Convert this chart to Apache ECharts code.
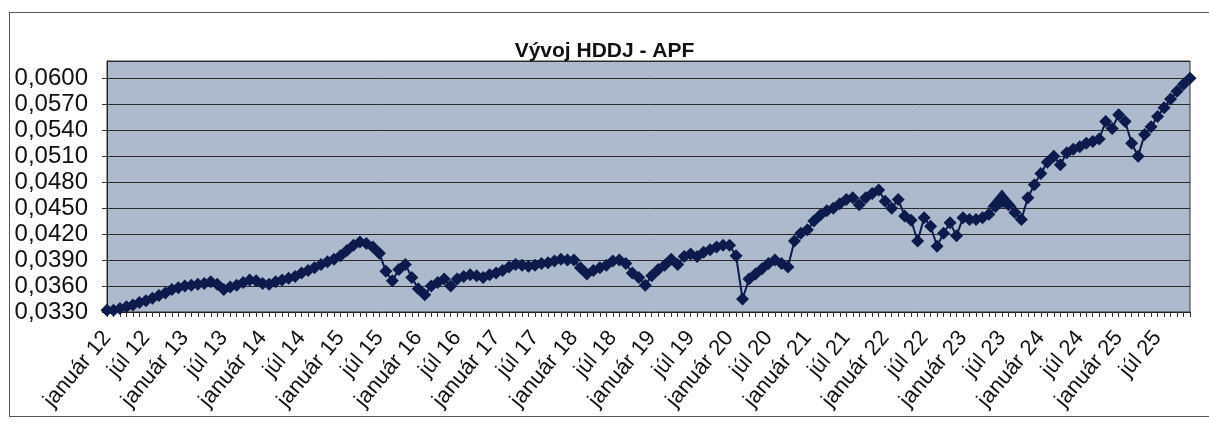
<!DOCTYPE html>
<html>
<head>
<meta charset="utf-8">
<script src="https://cdn.jsdelivr.net/npm/echarts@6/dist/echarts.min.js"></script>
<style>
html,body{margin:0;padding:0;background:#fff;}
#frame{position:absolute;left:9px;top:12px;width:1300px;height:405px;border:1.5px solid #555;box-sizing:border-box;}
#chart{position:absolute;left:0;top:0;width:1209px;height:428px;}
</style>
</head>
<body>
<div id="frame"></div>
<div id="chart"></div>
<script>
// Slovak month names; categories run monthly from január 2012 to december 2025
const monthNames = ['január','február','marec','apríl','máj','jún','júl','august','september','október','november','december'];
const years = ['12','13','14','15','16','17','18','19','20','21','22','23','24','25'];

const v2012 = [0.0332,0.0332,0.0334,0.0336,0.0338,0.0341,0.0343,0.0346,0.0349,0.0352,0.0356,0.0358];
const v2013 = [0.0360,0.0361,0.0362,0.0363,0.0365,0.0362,0.0356,0.0359,0.0361,0.0364,0.0367,0.0366];
const v2014 = [0.0363,0.0362,0.0365,0.0367,0.0369,0.0371,0.0375,0.0378,0.0381,0.0385,0.0388,0.0391];
const v2015 = [0.0395,0.0401,0.0407,0.0411,0.0409,0.0405,0.0398,0.0377,0.0366,0.0379,0.0385,0.0370];
const v2016 = [0.0357,0.0350,0.0360,0.0364,0.0368,0.0360,0.0368,0.0371,0.0373,0.0372,0.0370,0.0373];
const v2017 = [0.0375,0.0378,0.0382,0.0385,0.0384,0.0383,0.0384,0.0386,0.0387,0.0389,0.0391,0.0390];
const v2018 = [0.0390,0.0381,0.0374,0.0378,0.0381,0.0384,0.0389,0.0390,0.0386,0.0375,0.0370,0.0361];
const v2019 = [0.0372,0.0379,0.0384,0.0391,0.0385,0.0394,0.0397,0.0394,0.0399,0.0402,0.0405,0.0407];
const v2020 = [0.0407,0.0395,0.0345,0.0368,0.0374,0.0380,0.0386,0.0390,0.0386,0.0382,0.0412,0.0421];
const v2021 = [0.0425,0.0435,0.0442,0.0447,0.0450,0.0455,0.0460,0.0462,0.0454,0.0462,0.0467,0.0471];
const v2022 = [0.0458,0.0450,0.0460,0.0441,0.0436,0.0412,0.0439,0.0429,0.0406,0.0421,0.0433,0.0418];
const v2023 = [0.0439,0.0437,0.0437,0.0439,0.0443,0.0452,0.0461,0.0454,0.0445,0.0437,0.0462,0.0477];
const v2024 = [0.0490,0.0503,0.0510,0.0500,0.0514,0.0518,0.0521,0.0525,0.0527,0.0530,0.0550,0.0542];
const v2025 = [0.0558,0.0550,0.0525,0.0510,0.0535,0.0544,0.0556,0.0566,0.0576,0.0585,0.0593,0.0600];

const yearValues = [v2012,v2013,v2014,v2015,v2016,v2017,v2018,v2019,v2020,v2021,v2022,v2023,v2024,v2025];
const title = 'Vývoj HDDJ - APF';
const specialPoint = 'júl 23'; // drawn with a triangle marker in the original

const categories = [];
const values = [];
years.forEach((y, yi) => {
  monthNames.forEach((m, mi) => {
    categories.push(m + ' ' + y);
    values.push(yearValues[yi][mi]);
  });
});

const seriesData = values.map((v, i) => categories[i] === specialPoint
  ? { value: v, symbol: 'triangle', symbolSize: [30, 18] }
  : v);

const chart = echarts.init(document.getElementById('chart'), null, { renderer: 'canvas' });
const font = "'Liberation Sans', Arial, sans-serif";
chart.setOption({
  backgroundColor: 'transparent',
  animation: false,
  title: {
    text: title,
    left: 'center',
    top: 36,
    textStyle: { fontFamily: font, fontSize: 21, fontWeight: 'bold', color: '#111' }
  },
  grid: {
    left: 107, right: 19, top: 61, bottom: 116,
    show: true,
    backgroundColor: '#adbacd',
    borderColor: '#333',
    borderWidth: 1
  },
  xAxis: {
    type: 'category',
    data: categories,
    boundaryGap: false,
    axisLine: { lineStyle: { color: '#222', width: 1 } },
    axisTick: { show: true, interval: 0, length: 5, lineStyle: { color: '#333' } },
    axisLabel: {
      interval: 5,
      rotate: 50,
      margin: 22,
      fontFamily: font,
      fontSize: 22,
      color: '#111'
    },
    splitLine: { show: false }
  },
  yAxis: {
    type: 'value',
    min: 0.033,
    max: 0.062,
    interval: 0.003,
    axisLine: { show: true, lineStyle: { color: '#222', width: 1 } },
    axisTick: { show: true, length: 5, lineStyle: { color: '#333' } },
    axisLabel: {
      showMaxLabel: false,
      margin: 19,
      fontFamily: font,
      fontSize: 24,
      color: '#111',
      formatter: v => v.toFixed(4).replace('.', ',')
    },
    splitLine: { show: true, lineStyle: { color: '#2b2b2b', width: 1 } }
  },
  series: [{
    type: 'line',
    data: seriesData,
    symbol: 'diamond',
    symbolSize: 13,
    showAllSymbol: true,
    lineStyle: { color: '#0c1a4c', width: 2 },
    itemStyle: { color: '#0c1a4c' }
  }]
});
</script>
</body>
</html>
